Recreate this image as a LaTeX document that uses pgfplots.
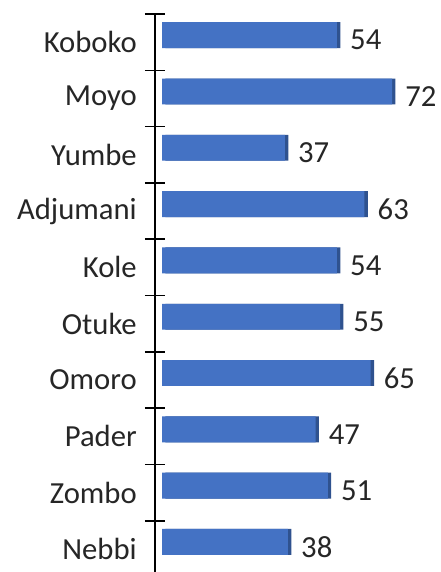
\documentclass[border=0pt]{standalone}
\usepackage{fontspec}
\setmainfont{Carlito}
\usepackage{pgfplots}
\pgfplotsset{compat=1.18}
\usepackage{pgfplotstable}
\definecolor{barblue}{HTML}{4472C4}
\definecolor{barside}{HTML}{2F528F}
\definecolor{txt}{HTML}{262626}

% districts, top to bottom
\pgfplotstableread{
idx value
0 54
1 72
2 37
3 63
4 54
5 55
6 65
7 47
8 51
9 38
}\districts

\begin{document}
\begin{tikzpicture}
\begin{axis}[
    name=ax,
    scale only axis,
    width=213.75pt, height=418.5pt,
    xbar, bar width=0.46, bar shift=-0.124,
    y dir=reverse,
    xmin=-2.29, xmax=90.85,
    ymin=-0.5, ymax=9.41,
    axis x line=none,
    axis y line*=left,
    y axis line style={line width=1.2pt, black, -},
    ytick={0,...,9},
    yticklabels={Koboko,Moyo,Yumbe,Adjumani,Kole,Otuke,Omoro,Pader,Zombo,Nebbi},
    major tick length=0pt,
    yticklabel style={font=\fontsize{23}{27}\selectfont, text=txt, anchor=east, inner sep=0pt, xshift=-13.5pt},
    nodes near coords,
    /pgf/number format/assume math mode=true,
    every node near coord/.append style={font=\fontsize{23}{27}\selectfont, text=txt,
        anchor=west, inner sep=0pt, xshift=9.75pt, yshift=-3.75pt},
    clip=false,
]
\addplot[draw=none, fill=barblue,
    preaction={fill=barside, transform canvas={xshift=2.6pt}}]
    table[y=idx, x expr=\thisrow{value}+3.17, meta=value, point meta=explicit] {\districts};
% category separators crossing the axis line
\pgfplotsinvokeforeach{-0.5,0.5,1.5,2.5,3.5,4.5,5.5,6.5,7.5,8.5}{
    \draw[line width=1.2pt, black] ([xshift=-7.5pt]axis cs:-2.29,#1) -- ([xshift=7.5pt]axis cs:-2.29,#1);
}
\end{axis}
\pgfresetboundingbox
\useasboundingbox ([xshift=-116.25pt]ax.south west) rectangle ([yshift=10.5pt]ax.north east);
\end{tikzpicture}
\end{document}
